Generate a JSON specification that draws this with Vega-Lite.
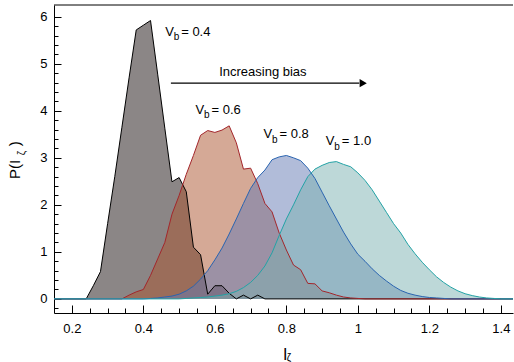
{
  "$schema": "https://vega.github.io/schema/vega-lite/v6.json",
  "width": 459,
  "height": 308,
  "autosize": "none",
  "padding": {"left": 54, "top": 5, "right": 1, "bottom": 49},
  "config": {
    "view": {"stroke": null},
    "font": "Liberation Sans",
    "axis": {"grid": false, "domainColor": "#000", "tickColor": "#000", "labelColor": "#000", "labelFont": "Liberation Sans", "labelFontSize": 13, "title": null, "zindex": 1}
  },
  "resolve": {"axis": {"x": "independent", "y": "independent"}},
  "datasets": {
    "curves": [
      {"s": "0.4", "x": 0.15, "y": 0}, {"s": "0.4", "x": 0.24, "y": 0}, {"s": "0.4", "x": 0.26, "y": 0.28}, {"s": "0.4", "x": 0.28, "y": 0.58},
      {"s": "0.4", "x": 0.30, "y": 1.6}, {"s": "0.4", "x": 0.32, "y": 2.6}, {"s": "0.4", "x": 0.34, "y": 3.65}, {"s": "0.4", "x": 0.36, "y": 4.7},
      {"s": "0.4", "x": 0.38, "y": 5.72}, {"s": "0.4", "x": 0.40, "y": 5.82}, {"s": "0.4", "x": 0.42, "y": 5.92}, {"s": "0.4", "x": 0.44, "y": 4.78},
      {"s": "0.4", "x": 0.46, "y": 3.63}, {"s": "0.4", "x": 0.48, "y": 2.49}, {"s": "0.4", "x": 0.50, "y": 2.58}, {"s": "0.4", "x": 0.52, "y": 2.28},
      {"s": "0.4", "x": 0.54, "y": 1.1}, {"s": "0.4", "x": 0.56, "y": 0.94}, {"s": "0.4", "x": 0.58, "y": 0.1}, {"s": "0.4", "x": 0.60, "y": 0.28},
      {"s": "0.4", "x": 0.62, "y": 0.28}, {"s": "0.4", "x": 0.64, "y": 0.12}, {"s": "0.4", "x": 0.66, "y": 0}, {"s": "0.4", "x": 0.68, "y": 0.08},
      {"s": "0.4", "x": 0.70, "y": 0}, {"s": "0.4", "x": 0.72, "y": 0.08}, {"s": "0.4", "x": 0.74, "y": 0}, {"s": "0.4", "x": 1.434, "y": 0},

      {"s": "0.6", "x": 0.15, "y": 0}, {"s": "0.6", "x": 0.34, "y": 0}, {"s": "0.6", "x": 0.36, "y": 0.08}, {"s": "0.6", "x": 0.38, "y": 0.15},
      {"s": "0.6", "x": 0.40, "y": 0.2}, {"s": "0.6", "x": 0.42, "y": 0.5}, {"s": "0.6", "x": 0.44, "y": 0.85}, {"s": "0.6", "x": 0.46, "y": 1.2},
      {"s": "0.6", "x": 0.48, "y": 1.8}, {"s": "0.6", "x": 0.50, "y": 2.2}, {"s": "0.6", "x": 0.52, "y": 2.65}, {"s": "0.6", "x": 0.54, "y": 3.05},
      {"s": "0.6", "x": 0.56, "y": 3.48}, {"s": "0.6", "x": 0.58, "y": 3.58}, {"s": "0.6", "x": 0.60, "y": 3.54}, {"s": "0.6", "x": 0.62, "y": 3.59},
      {"s": "0.6", "x": 0.64, "y": 3.68}, {"s": "0.6", "x": 0.66, "y": 3.32}, {"s": "0.6", "x": 0.68, "y": 2.76}, {"s": "0.6", "x": 0.70, "y": 2.78},
      {"s": "0.6", "x": 0.72, "y": 2.45}, {"s": "0.6", "x": 0.74, "y": 2.03}, {"s": "0.6", "x": 0.76, "y": 1.85}, {"s": "0.6", "x": 0.78, "y": 1.4},
      {"s": "0.6", "x": 0.80, "y": 1.04}, {"s": "0.6", "x": 0.82, "y": 0.72}, {"s": "0.6", "x": 0.84, "y": 0.62}, {"s": "0.6", "x": 0.86, "y": 0.33},
      {"s": "0.6", "x": 0.88, "y": 0.32}, {"s": "0.6", "x": 0.90, "y": 0.17}, {"s": "0.6", "x": 0.92, "y": 0.13}, {"s": "0.6", "x": 0.94, "y": 0.08},
      {"s": "0.6", "x": 0.96, "y": 0.04}, {"s": "0.6", "x": 0.98, "y": 0.02}, {"s": "0.6", "x": 1.00, "y": 0.01}, {"s": "0.6", "x": 1.02, "y": 0},
      {"s": "0.6", "x": 1.434, "y": 0},

      {"s": "0.8", "x": 0.15, "y": 0}, {"s": "0.8", "x": 0.40, "y": 0}, {"s": "0.8", "x": 0.42, "y": 0.01}, {"s": "0.8", "x": 0.44, "y": 0.02},
      {"s": "0.8", "x": 0.46, "y": 0.04}, {"s": "0.8", "x": 0.48, "y": 0.06}, {"s": "0.8", "x": 0.50, "y": 0.1}, {"s": "0.8", "x": 0.52, "y": 0.17},
      {"s": "0.8", "x": 0.54, "y": 0.27}, {"s": "0.8", "x": 0.56, "y": 0.42}, {"s": "0.8", "x": 0.58, "y": 0.6}, {"s": "0.8", "x": 0.60, "y": 0.83},
      {"s": "0.8", "x": 0.62, "y": 1.08}, {"s": "0.8", "x": 0.64, "y": 1.38}, {"s": "0.8", "x": 0.66, "y": 1.7}, {"s": "0.8", "x": 0.68, "y": 2.03},
      {"s": "0.8", "x": 0.70, "y": 2.35}, {"s": "0.8", "x": 0.72, "y": 2.58}, {"s": "0.8", "x": 0.74, "y": 2.74}, {"s": "0.8", "x": 0.76, "y": 2.96},
      {"s": "0.8", "x": 0.78, "y": 3.02}, {"s": "0.8", "x": 0.80, "y": 3.05}, {"s": "0.8", "x": 0.82, "y": 3.0}, {"s": "0.8", "x": 0.84, "y": 2.94},
      {"s": "0.8", "x": 0.86, "y": 2.78}, {"s": "0.8", "x": 0.88, "y": 2.56}, {"s": "0.8", "x": 0.90, "y": 2.27}, {"s": "0.8", "x": 0.92, "y": 1.98},
      {"s": "0.8", "x": 0.94, "y": 1.7}, {"s": "0.8", "x": 0.96, "y": 1.42}, {"s": "0.8", "x": 0.98, "y": 1.17}, {"s": "0.8", "x": 1.00, "y": 0.95},
      {"s": "0.8", "x": 1.02, "y": 0.8}, {"s": "0.8", "x": 1.04, "y": 0.64}, {"s": "0.8", "x": 1.06, "y": 0.5}, {"s": "0.8", "x": 1.08, "y": 0.38},
      {"s": "0.8", "x": 1.10, "y": 0.27}, {"s": "0.8", "x": 1.12, "y": 0.18}, {"s": "0.8", "x": 1.14, "y": 0.12}, {"s": "0.8", "x": 1.16, "y": 0.08},
      {"s": "0.8", "x": 1.18, "y": 0.05}, {"s": "0.8", "x": 1.20, "y": 0.03}, {"s": "0.8", "x": 1.22, "y": 0.02}, {"s": "0.8", "x": 1.24, "y": 0.01},
      {"s": "0.8", "x": 1.26, "y": 0}, {"s": "0.8", "x": 1.434, "y": 0},

      {"s": "1.0", "x": 0.15, "y": 0}, {"s": "1.0", "x": 0.50, "y": 0}, {"s": "1.0", "x": 0.52, "y": 0.01}, {"s": "1.0", "x": 0.54, "y": 0.02},
      {"s": "1.0", "x": 0.56, "y": 0.03}, {"s": "1.0", "x": 0.58, "y": 0.04}, {"s": "1.0", "x": 0.60, "y": 0.06}, {"s": "1.0", "x": 0.62, "y": 0.08},
      {"s": "1.0", "x": 0.64, "y": 0.11}, {"s": "1.0", "x": 0.66, "y": 0.16}, {"s": "1.0", "x": 0.68, "y": 0.24}, {"s": "1.0", "x": 0.70, "y": 0.35},
      {"s": "1.0", "x": 0.72, "y": 0.5}, {"s": "1.0", "x": 0.74, "y": 0.7}, {"s": "1.0", "x": 0.76, "y": 0.98}, {"s": "1.0", "x": 0.78, "y": 1.35},
      {"s": "1.0", "x": 0.80, "y": 1.7}, {"s": "1.0", "x": 0.82, "y": 2.0}, {"s": "1.0", "x": 0.84, "y": 2.32}, {"s": "1.0", "x": 0.86, "y": 2.6},
      {"s": "1.0", "x": 0.88, "y": 2.76}, {"s": "1.0", "x": 0.90, "y": 2.84}, {"s": "1.0", "x": 0.92, "y": 2.9}, {"s": "1.0", "x": 0.94, "y": 2.92},
      {"s": "1.0", "x": 0.96, "y": 2.86}, {"s": "1.0", "x": 0.98, "y": 2.81}, {"s": "1.0", "x": 1.00, "y": 2.68}, {"s": "1.0", "x": 1.02, "y": 2.52},
      {"s": "1.0", "x": 1.04, "y": 2.32}, {"s": "1.0", "x": 1.06, "y": 2.08}, {"s": "1.0", "x": 1.08, "y": 1.84}, {"s": "1.0", "x": 1.10, "y": 1.6},
      {"s": "1.0", "x": 1.12, "y": 1.4}, {"s": "1.0", "x": 1.14, "y": 1.16}, {"s": "1.0", "x": 1.16, "y": 0.96}, {"s": "1.0", "x": 1.18, "y": 0.78},
      {"s": "1.0", "x": 1.20, "y": 0.62}, {"s": "1.0", "x": 1.22, "y": 0.47}, {"s": "1.0", "x": 1.24, "y": 0.35}, {"s": "1.0", "x": 1.26, "y": 0.25},
      {"s": "1.0", "x": 1.28, "y": 0.17}, {"s": "1.0", "x": 1.30, "y": 0.11}, {"s": "1.0", "x": 1.32, "y": 0.07}, {"s": "1.0", "x": 1.34, "y": 0.04},
      {"s": "1.0", "x": 1.36, "y": 0.02}, {"s": "1.0", "x": 1.38, "y": 0.01}, {"s": "1.0", "x": 1.40, "y": 0}, {"s": "1.0", "x": 1.434, "y": 0}
    ],
    "labels": [
      {"lab": "= 0.4", "x": 0.461, "y": 5.594},
      {"lab": "= 0.6", "x": 0.546, "y": 3.936},
      {"lab": "= 0.8", "x": 0.736, "y": 3.419},
      {"lab": "= 1.0", "x": 0.9105, "y": 3.271}
    ]
  },
  "encoding": {
    "x": {"field": "x", "type": "quantitative", "scale": {"domain": [0.15, 1.434], "nice": false, "zero": false}, "axis": null},
    "y": {"field": "y", "type": "quantitative", "stack": null, "scale": {"domain": [-0.3, 6.25], "nice": false, "zero": false}, "axis": null}
  },
  "layer": [
    {
      "data": {"name": "curves"},
      "mark": {"type": "area", "fillOpacity": 0.5, "strokeWidth": 0},
      "encoding": {
        "x": {"field": "x", "type": "quantitative", "scale": {"domain": [0.15, 1.434], "nice": false, "zero": false},
          "axis": {"orient": "bottom", "values": [0.2,0.4,0.6,0.8,1,1.2,1.4], "format": "~g", "ticks": false, "tickSize": 0, "labelPadding": 9, "labelFlush": false, "labelOverlap": false}},
        "y": {"field": "y", "type": "quantitative", "stack": null, "scale": {"domain": [-0.3, 6.25], "nice": false, "zero": false},
          "axis": {"orient": "left", "values": [0,1,2,3,4,5,6], "format": "d", "ticks": false, "tickSize": 0, "labelPadding": 7, "labelFlush": false, "labelOverlap": false}},
        "fill": {"field": "s", "type": "nominal", "scale": {"domain": ["0.4","0.6","0.8","1.0"], "range": ["#170d0d","#ab532d","#6379b3","#7bb1b1"]}, "legend": null}
      }
    },
    {
      "data": {"name": "curves"},
      "mark": {"type": "line", "strokeWidth": 1},
      "encoding": {
        "x": {"field": "x", "type": "quantitative", "scale": {"domain": [0.15, 1.434], "nice": false, "zero": false},
          "axis": {"orient": "top", "offset": -308, "domain": false, "labels": false,
            "values": [0.2,0.25,0.3,0.35,0.4,0.45,0.5,0.55,0.6,0.65,0.7,0.75,0.8,0.85,0.9,0.95,1,1.05,1.1,1.15,1.2,1.25,1.3,1.35,1.4],
            "tickSize": {"condition": {"test": "abs(datum.value*5 - round(datum.value*5)) < 0.001", "value": 8}, "value": 5}}},
        "y": {"field": "y", "type": "quantitative", "stack": null, "scale": {"domain": [-0.3, 6.25], "nice": false, "zero": false},
          "axis": {"orient": "right", "offset": -459, "domain": false, "labels": false,
            "values": [-0.2,0,0.2,0.4,0.6,0.8,1,1.2,1.4,1.6,1.8,2,2.2,2.4,2.6,2.8,3,3.2,3.4,3.6,3.8,4,4.2,4.4,4.6,4.8,5,5.2,5.4,5.6,5.8,6],
            "tickSize": {"condition": {"test": "abs(datum.value - round(datum.value)) < 0.001", "value": 7}, "value": 4}}},
        "stroke": {"field": "s", "type": "nominal", "scale": {"domain": ["0.4","0.6","0.8","1.0"], "range": ["#000000","#a3262b","#2a64b0","#23a3a6"]}, "legend": null}
      }
    },
    {
      "data": {"values": [{"x": 0.15, "y": 6.25}]},
      "mark": {"type": "rule", "color": "#000", "strokeWidth": 1},
      "encoding": {"x2": {"datum": 1.434}}
    },
    {
      "data": {"name": "labels"},
      "mark": {"type": "text", "align": "left", "baseline": "alphabetic", "fontSize": 13, "color": "#000", "text": "V"},
      "encoding": {}
    },
    {
      "data": {"name": "labels"},
      "mark": {"type": "text", "align": "left", "baseline": "alphabetic", "fontSize": 10, "color": "#000", "text": "b", "dx": 8.5, "dy": 4.5},
      "encoding": {}
    },
    {
      "data": {"name": "labels"},
      "mark": {"type": "text", "align": "left", "baseline": "alphabetic", "fontSize": 13, "color": "#000", "dx": 16},
      "encoding": {"text": {"field": "lab"}}
    },
    {
      "data": {"values": [{"x": 0.612, "y": 4.75}]},
      "mark": {"type": "text", "align": "left", "baseline": "alphabetic", "fontSize": 13, "color": "#000", "text": "Increasing bias"},
      "encoding": {}
    },
    {
      "data": {"values": [{"x": 0.477, "y": 4.588}]},
      "mark": {"type": "rule", "color": "#000", "strokeWidth": 1.3},
      "encoding": {"x2": {"datum": 1.004}}
    },
    {
      "data": {"values": [{"x": 1.015, "y": 4.588}]},
      "mark": {"type": "point", "shape": "triangle-right", "filled": true, "color": "#000", "opacity": 1, "size": 70},
      "encoding": {}
    },
    {
      "data": {"values": [{"x": 0.0545, "y": 2.548}]},
      "mark": {"type": "text", "align": "left", "baseline": "alphabetic", "fontSize": 15, "color": "#000", "angle": 270, "text": "P(I"},
      "encoding": {}
    },
    {
      "data": {"values": [{"x": 0.068, "y": 3.054}]},
      "mark": {"type": "text", "align": "left", "baseline": "alphabetic", "fontSize": 10, "color": "#000", "angle": 270, "text": "ζ"},
      "encoding": {}
    },
    {
      "data": {"values": [{"x": 0.0545, "y": 3.245}]},
      "mark": {"type": "text", "align": "left", "baseline": "alphabetic", "fontSize": 15, "color": "#000", "angle": 270, "text": ")"},
      "encoding": {}
    },
    {
      "data": {"values": [{"x": 0.7967, "y": -1.293}]},
      "mark": {"type": "text", "align": "center", "baseline": "alphabetic", "fontSize": 16, "color": "#000", "text": "I"},
      "encoding": {}
    },
    {
      "data": {"values": [{"x": 0.8008, "y": -1.33}]},
      "mark": {"type": "text", "align": "left", "baseline": "alphabetic", "fontSize": 10, "color": "#000", "text": "ζ"},
      "encoding": {}
    }
  ]
}
